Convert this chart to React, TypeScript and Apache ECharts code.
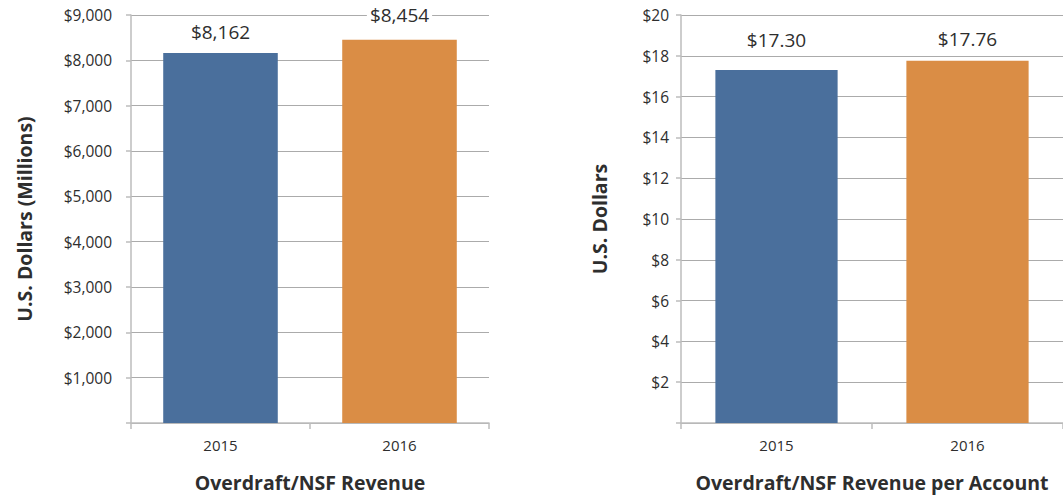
import React, { useEffect, useRef } from "react";
import * as echarts from "echarts";

const categories = ["2015", "2016"];
const revenueMillions = [8162, 8454];
const revenuePerAccount = [17.3, 17.76];
const leftTicks = { min: 0, max: 9000, interval: 1000 };
const rightTicks = { min: 0, max: 20, interval: 2 };

const barColors = ["#4A6F9C", "#DA8D45"];
const leftLabelDistance = [11, 15];
const rightLabelDistance = [21, 12];

const FONT = "'Open Sans', 'Noto Sans', sans-serif";
const TEXT = "#2e2e2e";

export default function App() {
  const ref = useRef<HTMLDivElement>(null);

  useEffect(() => {
    if (!ref.current) return;
    const chart = echarts.init(ref.current, undefined, { renderer: "svg" });

    const xAxisBase = (gridIndex: number, name: string) => ({
      type: "category",
      gridIndex,
      data: categories,
      name,
      nameLocation: "middle",
      nameGap: 49,
      nameTextStyle: { fontFamily: FONT, fontSize: 19.5, fontWeight: "bold", color: TEXT },
      axisLine: { show: true, lineStyle: { color: "#bdbdbd", width: 1.5 } },
      axisTick: { show: true, length: 6, alignWithLabel: false, lineStyle: { color: "#bdbdbd", width: 1.5 } },
      axisLabel: { fontFamily: FONT, fontSize: 15, color: TEXT, margin: 14 },
      splitLine: { show: false },
    });

    const yAxisBase = (gridIndex: number, name: string, ticks: any, nameGap: number, margin: number, fmt: (v: number) => string) => ({
      type: "value",
      gridIndex,
      min: ticks.min,
      max: ticks.max,
      interval: ticks.interval,
      name,
      nameLocation: "middle",
      nameGap,
      nameRotate: 90,
      nameTextStyle: { fontFamily: FONT, fontSize: 19.5, fontWeight: "bold", color: TEXT },
      axisLine: { show: true, lineStyle: { color: "#bdbdbd", width: 1.5 } },
      axisTick: { show: true, length: 5, lineStyle: { color: "#bdbdbd", width: 1.5 } },
      axisLabel: {
        fontFamily: FONT,
        fontSize: 15.5,
        color: TEXT,
        margin,
        formatter: (v: number) => (v === 0 ? "" : fmt(v)),
      },
      splitLine: { show: true, lineStyle: { color: "#ababab", width: 1 } },
    });

    const labelStyle = {
      show: true,
      position: "top",
      fontFamily: FONT,
      fontSize: 19,
      color: TEXT,
      backgroundColor: "#ffffff",
      padding: [0, 3],
    };

    chart.setOption({
      animation: false,
      backgroundColor: "#ffffff",
      grid: [
        { left: 131, top: 15, width: 358, height: 410, containLabel: false },
        { left: 681, top: 15, width: 387, height: 411, containLabel: false },
      ],
      xAxis: [
        xAxisBase(0, "Overdraft/NSF Revenue"),
        xAxisBase(1, "Overdraft/NSF Revenue per Account"),
      ],
      yAxis: [
        yAxisBase(0, "U.S. Dollars (Millions)", leftTicks, 97, 19, (v) => "$" + v.toLocaleString("en-US")),
        yAxisBase(1, "U.S. Dollars", rightTicks, 72, 12, (v) => "$" + v),
      ],
      series: [
        {
          type: "bar",
          xAxisIndex: 0,
          yAxisIndex: 0,
          barWidth: "64%",
          data: revenueMillions.map((v, i) => ({
            value: v,
            itemStyle: { color: barColors[i] },
            label: { ...labelStyle, distance: leftLabelDistance[i] },
          })),
          label: {
            ...labelStyle,
            formatter: (p: any) => "$" + Number(p.value).toLocaleString("en-US"),
          },
        },
        {
          type: "bar",
          xAxisIndex: 1,
          yAxisIndex: 1,
          barWidth: "64%",
          data: revenuePerAccount.map((v, i) => ({
            value: v,
            itemStyle: { color: barColors[i] },
            label: { ...labelStyle, distance: rightLabelDistance[i] },
          })),
          label: {
            ...labelStyle,
            formatter: (p: any) => "$" + Number(p.value).toFixed(2),
          },
        },
      ],
    });

    return () => chart.dispose();
  }, []);

  return (
    <div
      ref={ref}
      style={{ position: "absolute", left: 0, top: 0, width: 1063, height: 497 }}
    />
  );
}
